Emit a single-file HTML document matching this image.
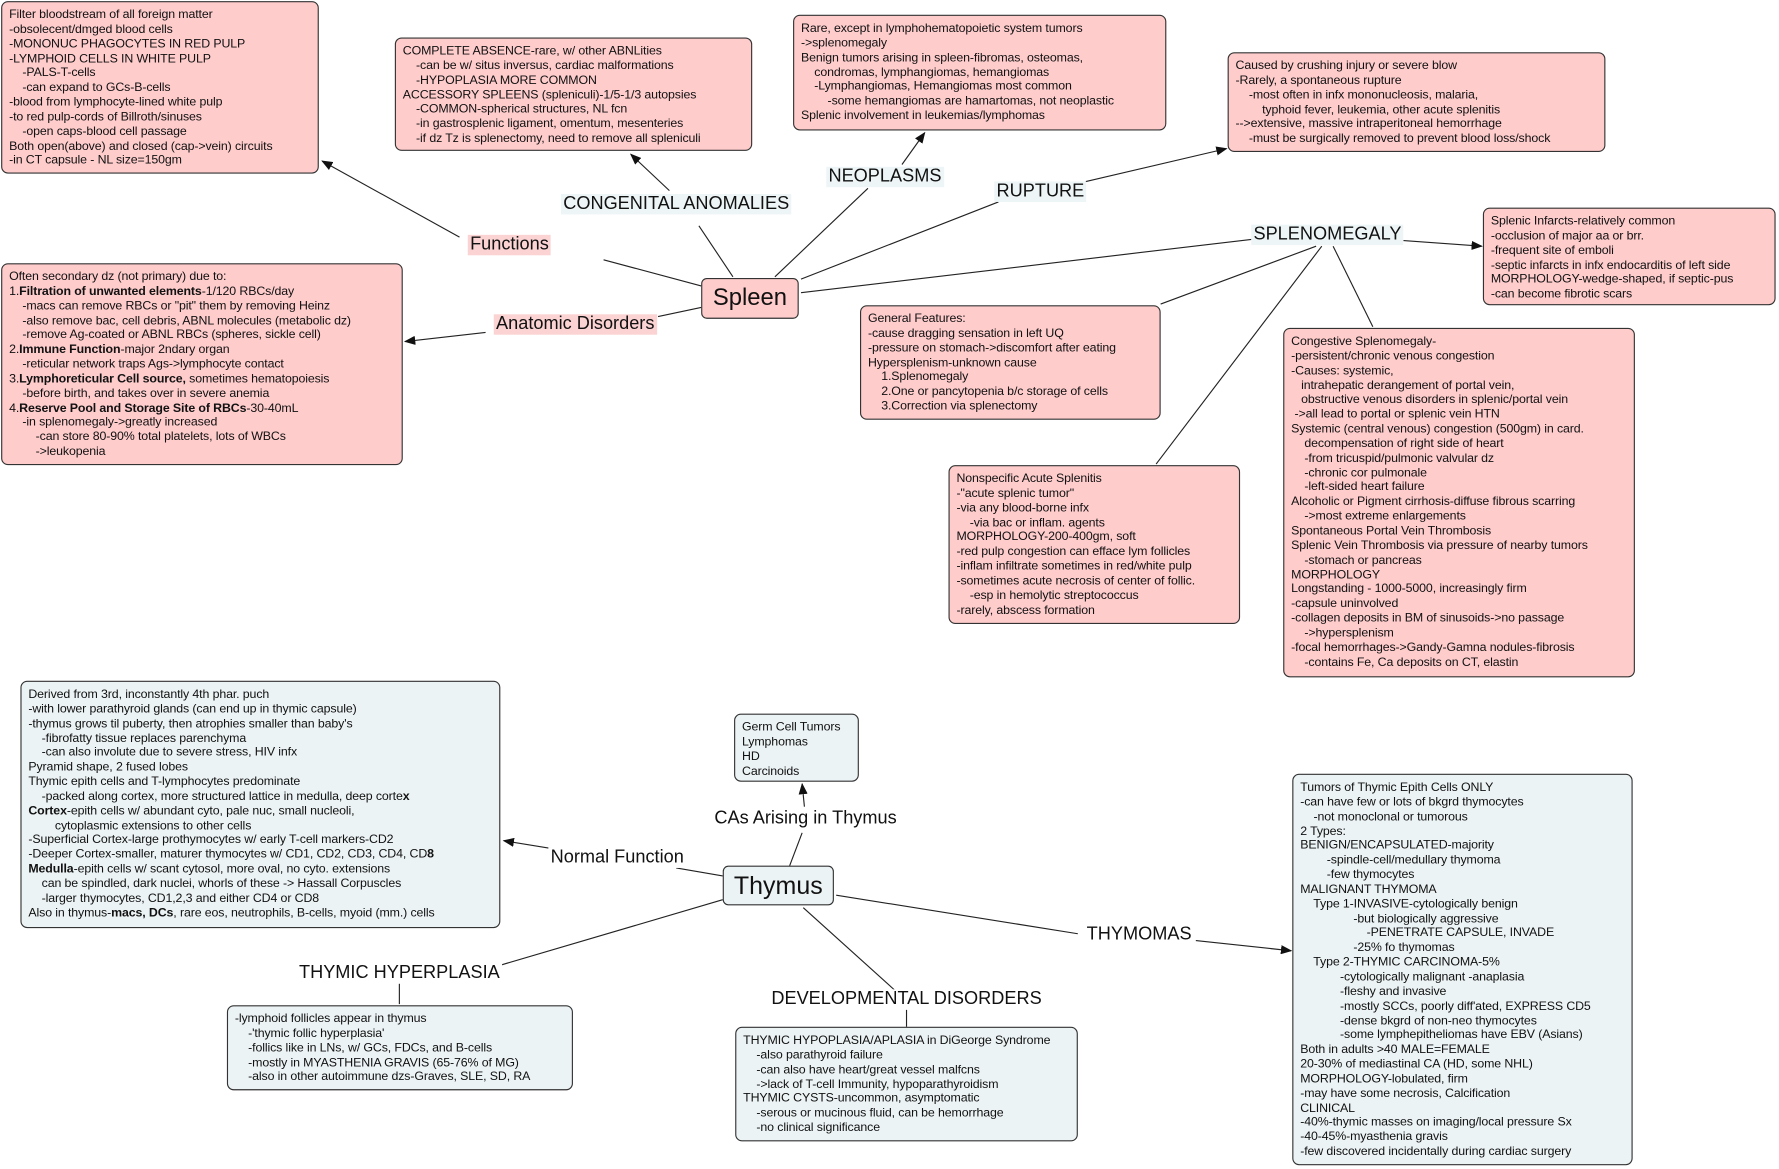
<!DOCTYPE html>
<html><head><meta charset="utf-8"><style>
html,body{margin:0;padding:0;background:#fff;width:1779px;height:1169px;overflow:hidden}
#c{position:absolute;left:0;top:0;width:1568px;height:1030px;transform:scale(1.13457);transform-origin:0 0;font-family:"Liberation Sans","DejaVu Sans",sans-serif}
.b{position:absolute;border:1px solid #333;border-radius:6px;box-sizing:border-box;padding:5px 6px;font-size:10.9px;line-height:12.85px;white-space:pre;color:#111;letter-spacing:-0.1px;overflow:hidden}
.p{background:#ffcccc}
.t{background:#ecf3f5}
.l{position:absolute;font-size:16px;line-height:18px;white-space:nowrap;color:#111;padding:0 2px;transform:translate(-50%,-50%)}
.pl{background:#fbd3d3}
.bl{background:#eef5f7}
.n{position:absolute;border:1px solid #333;border-radius:5px;box-sizing:border-box;text-align:center;color:#111}
svg{position:absolute;left:0;top:0}
</style></head><body><div id="c">
<svg width="1568" height="1030" viewBox="0 0 1568 1030">
<defs><marker id="a" markerWidth="10" markerHeight="8" refX="9" refY="4" orient="auto" markerUnits="userSpaceOnUse"><path d="M0,0 L10,4 L0,8 z" fill="#111"/></marker></defs>
<g stroke="#222" stroke-width="1" fill="none">
<line x1="618" y1="252" x2="532" y2="229"/><line x1="405" y1="209" x2="284" y2="142" marker-end="url(#a)"/>
<line x1="646" y1="244" x2="616" y2="199"/><line x1="590" y1="168" x2="556" y2="136" marker-end="url(#a)"/>
<line x1="683" y1="244" x2="765" y2="166"/><line x1="795" y1="145" x2="815" y2="117" marker-end="url(#a)"/>
<line x1="706" y1="246" x2="880" y2="178"/><line x1="957" y1="160" x2="1081" y2="131" marker-end="url(#a)"/>
<line x1="706" y1="258" x2="1103" y2="211"/><line x1="1237" y1="212" x2="1306" y2="217" marker-end="url(#a)"/>
<line x1="1160" y1="217" x2="1023" y2="268"/><line x1="1165" y1="217" x2="1019" y2="409"/><line x1="1175" y1="217" x2="1210" y2="288"/>
<line x1="618" y1="271" x2="580" y2="279"/><line x1="428" y1="293" x2="357" y2="301" marker-end="url(#a)"/>
<line x1="696" y1="763" x2="707" y2="734"/><line x1="709" y1="711" x2="707" y2="691" marker-end="url(#a)"/>
<line x1="637" y1="772" x2="596" y2="765"/><line x1="487" y1="748" x2="444" y2="741" marker-end="url(#a)"/>
<line x1="637" y1="793" x2="440" y2="851"/><line x1="352" y1="867" x2="352" y2="885"/>
<line x1="708" y1="800" x2="790" y2="874"/><line x1="799" y1="890" x2="799" y2="905"/>
<line x1="737" y1="789" x2="950" y2="823"/><line x1="1054" y1="829" x2="1138" y2="838" marker-end="url(#a)"/>
</g></svg>

<div class="b p" style="left:1px;top:1px;width:280px;height:152px">Filter bloodstream of all foreign matter
-obsolecent/dmged blood cells
-MONONUC PHAGOCYTES IN RED PULP
-LYMPHOID CELLS IN WHITE PULP
    -PALS-T-cells
    -can expand to GCs-B-cells
-blood from lymphocyte-lined white pulp
-to red pulp-cords of Billroth/sinuses
    -open caps-blood cell passage
Both open(above) and closed (cap->vein) circuits
-in CT capsule - NL size=150gm</div>

<div class="b p" style="left:348px;top:33px;width:315px;height:100px">COMPLETE ABSENCE-rare, w/ other ABNLities
    -can be w/ situs inversus, cardiac malformations
    -HYPOPLASIA MORE COMMON
ACCESSORY SPLEENS (spleniculi)-1/5-1/3 autopsies
    -COMMON-spherical structures, NL fcn
    -in gastrosplenic ligament, omentum, mesenteries
    -if dz Tz is splenectomy, need to remove all spleniculi</div>

<div class="b p" style="left:699px;top:13px;width:329px;height:102px">Rare, except in lymphohematopoietic system tumors
->splenomegaly
Benign tumors arising in spleen-fibromas, osteomas,
    condromas, lymphangiomas, hemangiomas
    -Lymphangiomas, Hemangiomas most common
        -some hemangiomas are hamartomas, not neoplastic
Splenic involvement in leukemias/lymphomas</div>

<div class="b p" style="left:1082px;top:46px;width:333px;height:88px">Caused by crushing injury or severe blow
-Rarely, a spontaneous rupture
    -most often in infx mononucleosis, malaria,
        typhoid fever, leukemia, other acute splenitis
-->extensive, massive intraperitoneal hemorrhage
    -must be surgically removed to prevent blood loss/shock</div>

<div class="b p" style="left:1307px;top:183px;width:258px;height:86px">Splenic Infarcts-relatively common
-occlusion of major aa or brr.
-frequent site of emboli
-septic infarcts in infx endocarditis of left side
MORPHOLOGY-wedge-shaped, if septic-pus
-can become fibrotic scars</div>

<div class="b p" style="left:758px;top:269px;width:265px;height:101px">General Features:
-cause dragging sensation in left UQ
-pressure on stomach->discomfort after eating
Hypersplenism-unknown cause
    1.Splenomegaly
    2.One or pancytopenia b/c storage of cells
    3.Correction via splenectomy</div>

<div class="b p" style="left:1131px;top:289px;width:310px;height:308px">Congestive Splenomegaly-
-persistent/chronic venous congestion
-Causes: systemic,
   intrahepatic derangement of portal vein,
   obstructive venous disorders in splenic/portal vein
 ->all lead to portal or splenic vein HTN
Systemic (central venous) congestion (500gm) in card.
    decompensation of right side of heart
    -from tricuspid/pulmonic valvular dz
    -chronic cor pulmonale
    -left-sided heart failure
Alcoholic or Pigment cirrhosis-diffuse fibrous scarring
    ->most extreme enlargements
Spontaneous Portal Vein Thrombosis
Splenic Vein Thrombosis via pressure of nearby tumors
    -stomach or pancreas
MORPHOLOGY
Longstanding - 1000-5000, increasingly firm
-capsule uninvolved
-collagen deposits in BM of sinusoids->no passage
    ->hypersplenism
-focal hemorrhages->Gandy-Gamna nodules-fibrosis
    -contains Fe, Ca deposits on CT, elastin</div>

<div class="b p" style="left:836px;top:410px;width:257px;height:140px">Nonspecific Acute Splenitis
-"acute splenic tumor"
-via any blood-borne infx
    -via bac or inflam. agents
MORPHOLOGY-200-400gm, soft
-red pulp congestion can efface lym follicles
-inflam infiltrate sometimes in red/white pulp
-sometimes acute necrosis of center of follic.
    -esp in hemolytic streptococcus
-rarely, abscess formation</div>

<div class="b p" style="left:1px;top:232px;width:354px;height:178px">Often secondary dz (not primary) due to:
1.<b>Filtration of unwanted elements</b>-1/120 RBCs/day
    -macs can remove RBCs or "pit" them by removing Heinz
    -also remove bac, cell debris, ABNL molecules (metabolic dz)
    -remove Ag-coated or ABNL RBCs (spheres, sickle cell)
2.<b>Immune Function</b>-major 2ndary organ
    -reticular network traps Ags->lymphocyte contact
3.<b>Lymphoreticular Cell source,</b> sometimes hematopoiesis
    -before birth, and takes over in severe anemia
4.<b>Reserve Pool and Storage Site of RBCs</b>-30-40mL
    -in splenomegaly->greatly increased
        -can store 80-90% total platelets, lots of WBCs
        ->leukopenia</div>

<div class="n" style="left:618px;top:245px;width:86px;height:36px;background:#ffcccc;font-size:21px;line-height:34px">Spleen</div>

<div class="l pl" style="left:449px;top:216px">Functions</div>
<div class="l bl" style="left:596px;top:180px">CONGENITAL ANOMALIES</div>
<div class="l bl" style="left:780px;top:156px">NEOPLASMS</div>
<div class="l bl" style="left:917px;top:169px">RUPTURE</div>
<div class="l bl" style="left:1170px;top:207px">SPLENOMEGALY</div>
<div class="l pl" style="left:507px;top:286px">Anatomic Disorders</div>

<div class="b t" style="left:18px;top:600px;width:423px;height:218px">Derived from 3rd, inconstantly 4th phar. puch
-with lower parathyroid glands (can end up in thymic capsule)
-thymus grows til puberty, then atrophies smaller than baby's
    -fibrofatty tissue replaces parenchyma
    -can also involute due to severe stress, HIV infx
Pyramid shape, 2 fused lobes
Thymic epith cells and T-lymphocytes predominate
    -packed along cortex, more structured lattice in medulla, deep corte<b>x</b>
<b>Cortex</b>-epith cells w/ abundant cyto, pale nuc, small nucleoli,
        cytoplasmic extensions to other cells
-Superficial Cortex-large prothymocytes w/ early T-cell markers-CD2
-Deeper Cortex-smaller, maturer thymocytes w/ CD1, CD2, CD3, CD4, CD<b>8</b>
<b>Medulla</b>-epith cells w/ scant cytosol, more oval, no cyto. extensions
    can be spindled, dark nuclei, whorls of these -> Hassall Corpuscles
    -larger thymocytes, CD1,2,3 and either CD4 or CD8
Also in thymus-<b>macs, DCs</b>, rare eos, neutrophils, B-cells, myoid (mm.) cells</div>

<div class="b t" style="left:647px;top:629px;width:110px;height:60px">Germ Cell Tumors
Lymphomas
HD
Carcinoids</div>

<div class="b t" style="left:200px;top:886px;width:305px;height:75px">-lymphoid follicles appear in thymus
    -'thymic follic hyperplasia'
    -follics like in LNs, w/ GCs, FDCs, and B-cells
    -mostly in MYASTHENIA GRAVIS (65-76% of MG)
    -also in other autoimmune dzs-Graves, SLE, SD, RA</div>

<div class="b t" style="left:648px;top:905px;width:302px;height:101px">THYMIC HYPOPLASIA/APLASIA in DiGeorge Syndrome
    -also parathyroid failure
    -can also have heart/great vessel malfcns
    ->lack of T-cell Immunity, hypoparathyroidism
THYMIC CYSTS-uncommon, asymptomatic
    -serous or mucinous fluid, can be hemorrhage
    -no clinical significance</div>

<div class="b t" style="left:1139px;top:682px;width:300px;height:345px">Tumors of Thymic Epith Cells ONLY
-can have few or lots of bkgrd thymocytes
    -not monoclonal or tumorous
2 Types:
BENIGN/ENCAPSULATED-majority
        -spindle-cell/medullary thymoma
        -few thymocytes
MALIGNANT THYMOMA
    Type 1-INVASIVE-cytologically benign
                -but biologically aggressive
                    -PENETRATE CAPSULE, INVADE
                -25% fo thymomas
    Type 2-THYMIC CARCINOMA-5%
            -cytologically malignant -anaplasia
            -fleshy and invasive
            -mostly SCCs, poorly diff'ated, EXPRESS CD5
            -dense bkgrd of non-neo thymocytes
            -some lymphepitheliomas have EBV (Asians)
Both in adults >40 MALE=FEMALE
20-30% of mediastinal CA (HD, some NHL)
MORPHOLOGY-lobulated, firm
-may have some necrosis, Calcification
CLINICAL
-40%-thymic masses on imaging/local pressure Sx
-40-45%-myasthenia gravis
-few discovered incidentally during cardiac surgery</div>

<div class="n" style="left:637px;top:763px;width:98px;height:35px;background:#ecf3f5;font-size:22px;line-height:33px">Thymus</div>

<div class="l" style="left:710px;top:722px;background:#fff">CAs Arising in Thymus</div>
<div class="l" style="left:544px;top:756px;background:#fff">Normal Function</div>
<div class="l" style="left:352px;top:858px;background:#fff">THYMIC HYPERPLASIA</div>
<div class="l" style="left:799px;top:881px;background:#fff">DEVELOPMENTAL DISORDERS</div>
<div class="l" style="left:1004px;top:824px;background:#fff">THYMOMAS</div>
</div></body></html>
